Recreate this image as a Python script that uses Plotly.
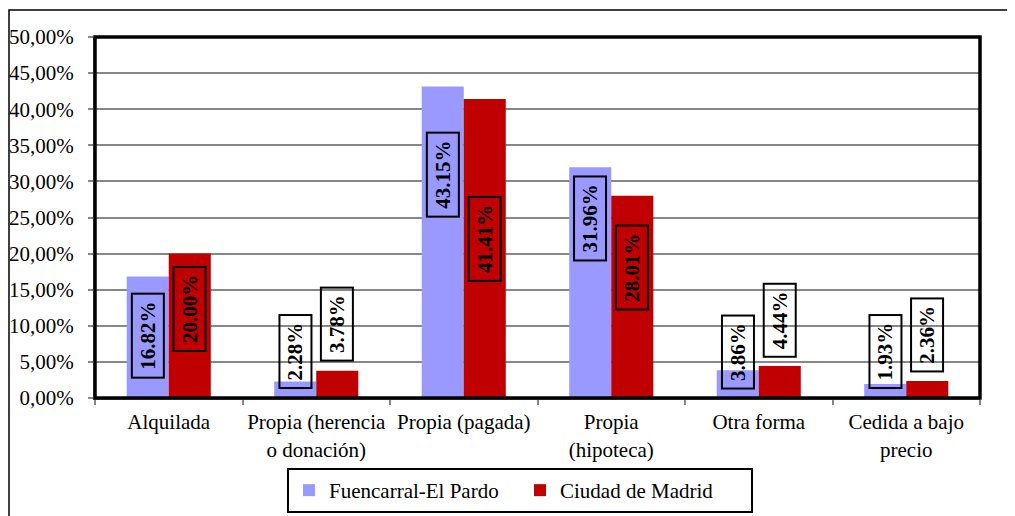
import plotly.graph_objects as go

categories = ["Alquilada", "Propia (herencia<br>o donación)", "Propia (pagada)",
              "Propia<br>(hipoteca)", "Otra forma", "Cedida a bajo<br>precio"]
fuencarral = [16.82, 2.28, 43.15, 31.96, 3.86, 1.93]
madrid = [20.00, 3.78, 41.41, 28.01, 4.44, 2.36]
series_names = ["Fuencarral-El Pardo", "Ciudad de Madrid"]
y_ticks = [0, 5, 10, 15, 20, 25, 30, 35, 40, 45, 50]
y_tick_labels = ["0,00%", "5,00%", "10,00%", "15,00%", "20,00%", "25,00%",
                 "30,00%", "35,00%", "40,00%", "45,00%", "50,00%"]

# placement of the (manually dragged) data-label boxes, in axis units
label_center_f = [8.6, 6.4, 30.9, 24.9, 6.4, 6.4]
label_center_m = [12.3, 10.2, 22.0, 18.1, 10.8, 8.7]

BLUE = "#9999FF"
RED = "#C00000"
FONT = "Liberation Serif"

fig = go.Figure()
fig.add_trace(go.Bar(x=categories, y=fuencarral, name=series_names[0],
                     marker=dict(color=BLUE, line=dict(width=0))))
fig.add_trace(go.Bar(x=categories, y=madrid, name=series_names[1],
                     marker=dict(color=RED, line=dict(width=0))))

annotations = []
for vals, centers, shift in ((fuencarral, label_center_f, -21), (madrid, label_center_m, 21)):
    for cat, v, c in zip(categories, vals, centers):
        txt = f"{v:.2f}%"
        annotations.append(dict(
            x=cat, y=c, xref="x", yref="y", xshift=shift,
            text=f"<b>{txt}</b>", showarrow=False, textangle=-90,
            font=dict(family=FONT, size=21, color="black"),
            bordercolor="black", borderwidth=2, borderpad=1,
            width=80 if len(txt) == 6 else 69, height=28,
        ))

# page offset of the figure inside the browser page (default body margin)
OFF = 8
W, H = 1015, 516
# target plot-area edges in page pixels
pg_l, pg_r, pg_t, pg_b = 95, 980, 37, 398
px_l, px_r, px_t, px_b = pg_l - OFF, pg_r - OFF, pg_t - OFF, pg_b - OFF
pw, ph = px_r - px_l, px_b - px_t

def fx(p):
    return (p - OFF - px_l) / pw

def fy(p):
    return (px_b - (p - OFF)) / ph

shapes = [
    dict(type="rect", xref="paper", yref="paper", x0=fx(9), x1=fx(1040), y0=fy(540), y1=fy(10),
         line=dict(color="black", width=1.5), layer="below"),
    dict(type="rect", xref="paper", yref="paper", x0=0, x1=1, y0=0, y1=1,
         line=dict(color="black", width=3.5)),
]

fig.update_layout(
    width=W, height=H,
    margin=dict(l=px_l, r=W - px_r, t=px_t, b=H - px_b, autoexpand=False),
    paper_bgcolor="white", plot_bgcolor="white",
    barmode="group", bargap=0.43, bargroupgap=0,
    font=dict(family=FONT, size=21, color="black"),
    showlegend=True,
    legend=dict(orientation="h", x=fx(520), xanchor="center", y=fy(468), yanchor="top",
                bordercolor="black", borderwidth=2, bgcolor="white",
                font=dict(family=FONT, size=21, color="black"),
                itemwidth=30, tracegroupgap=0, entrywidth=186, entrywidthmode="pixels"),
    annotations=annotations,
    shapes=shapes,
)
fig.update_yaxes(range=[0, 50], tickvals=y_ticks, ticktext=y_tick_labels,
                 showgrid=True, gridcolor="#878787", gridwidth=1.5,
                 showline=True, linecolor="#878787", linewidth=2,
                 ticks="outside", ticklen=5, tickcolor="#878787", tickwidth=1.5,
                 ticklabelstandoff=10, automargin=False,
                 zeroline=False, tickfont=dict(size=21), fixedrange=True)
fig.update_xaxes(showline=True, linecolor="#878787", linewidth=2,
                 ticks="outside", ticklen=5, tickcolor="#878787", tickwidth=1.5,
                 tickson="boundaries", tickangle=0, ticklabelstandoff=4, automargin=False,
                 tickfont=dict(size=21), fixedrange=True)

fig.write_html("out.html")
